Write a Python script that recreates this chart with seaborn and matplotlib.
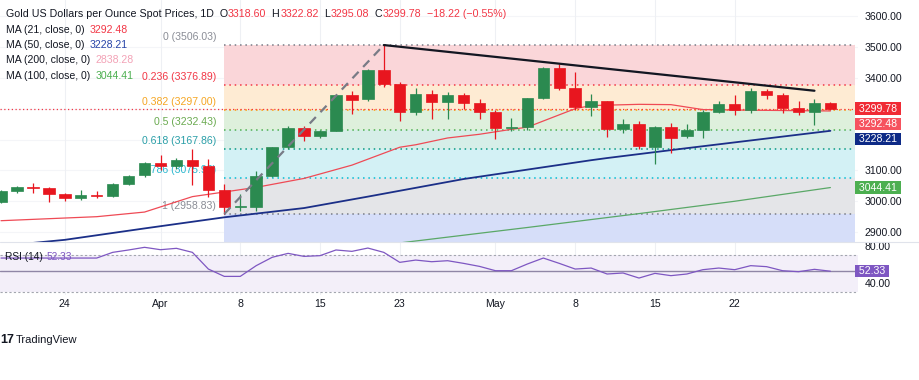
import matplotlib
matplotlib.use("Agg")
import matplotlib.pyplot as plt
from matplotlib.ticker import StrMethodFormatter
import seaborn as sns

# daily candles, 18 Mar .. 30 May (Good Friday skipped)
opens = [2999, 3034, 3047, 3043, 3022, 3011, 3019, 3018, 3056, 3084,
         3123, 3114, 3134, 3114, 3036, 2982, 2982, 3082, 3175, 3237,
         3211, 3229, 3343, 3330, 3425, 3381, 3288, 3349, 3320, 3344,
         3318, 3289, 3238, 3240, 3333, 3432, 3366, 3305, 3325, 3234,
         3249, 3177, 3240, 3211, 3231, 3290, 3314, 3295, 3358, 3344,
         3302, 3288, 3318.60]
highs = [3038, 3050, 3058, 3047, 3026, 3035, 3032, 3059, 3086, 3128,
         3149, 3140, 3168, 3136, 3055, 3022, 3099, 3176, 3245, 3245,
         3232, 3347, 3358, 3430, 3506.03, 3386, 3367, 3362, 3355, 3350,
         3330, 3295, 3269, 3336, 3436, 3445, 3420, 3348, 3325, 3265,
         3260, 3245, 3252, 3250, 3296, 3325, 3345, 3366, 3363, 3350,
         3325, 3330, 3322.82]
lows = [2995, 3028, 3026, 2999, 3002, 3004, 3010, 3015, 3054, 3077,
        3100, 3105, 3054, 3015, 2958.83, 2970, 2970, 3080, 3170, 3194,
        3205, 3228, 3284, 3325, 3370, 3260, 3280, 3267, 3268, 3298,
        3268, 3202, 3229, 3232, 3330, 3362, 3295, 3277, 3208, 3220,
        3168, 3120, 3155, 3204, 3205, 3285, 3278, 3287, 3330, 3285,
        3279, 3246, 3295.08]
closes = [3033, 3045, 3042, 3022, 3011, 3019, 3018, 3056, 3083, 3123,
          3114, 3134, 3114, 3037, 2982, 2984, 3082, 3175, 3237, 3211,
          3229, 3343, 3327, 3425, 3381, 3288, 3349, 3320, 3344, 3318,
          3289, 3237, 3240, 3333, 3432, 3366, 3305, 3325, 3234, 3250,
          3178, 3240, 3204, 3231, 3289, 3314, 3295, 3358, 3344, 3302,
          3288, 3318, 3299.78]

# moving averages, read at a few candles
ma21_idx = [0, 6, 9, 12, 14, 16, 19, 22, 25, 26, 28, 30, 32, 33, 35, 36, 37, 40, 42, 44, 47, 52]
ma21_val = [2937, 2950, 2965, 3015, 3030, 3045, 3074, 3117, 3175, 3183, 3205, 3217,
            3233, 3240, 3280, 3300, 3310, 3314, 3313, 3297, 3295, 3292.48]
ma50_idx = [0, 4, 9, 14, 19, 23, 27, 29, 37, 38, 43, 52]
ma50_val = [2855, 2875, 2912, 2948, 2978, 3015, 3053, 3072, 3133, 3140, 3172, 3228.21]
ma100_idx = [25, 33, 40, 46, 52]
ma100_val = [2865, 2915, 2960, 3000, 3044.41]

rsi = [66.7, 66.7, 66.7, 66.7, 66.7, 66.7, 66.7, 72.9, 75.5, 78.4,
       75.8, 77.3, 72.9, 54.7, 46.7, 46.7, 58.4, 67.5, 71.8, 68.5,
       69.3, 75.5, 74.0, 77.6, 72.9, 62.0, 64.5, 62.7, 63.8, 60.9,
       57.6, 52.9, 52.9, 60.2, 66.7, 60.9, 54.7, 55.8, 49.3, 50.4,
       44.9, 50.0, 47.5, 49.3, 54.0, 55.8, 54.0, 58.4, 57.3, 52.9,
       51.8, 54.4, 52.33]

fib_ratio = [0, 0.236, 0.382, 0.5, 0.618, 0.786, 1]
fib_price = [3506.03, 3376.89, 3297.00, 3232.43, 3167.86, 3075.93, 2958.83]
fib_line = ["#787b86", "#f23645", "#ff9800", "#4caf50", "#089981", "#00bcd4", "#787b86"]
fib_text = ["#8a8d96", "#f23645", "#f5a623", "#6aaa50", "#2a9fa8", "#2bb8cf", "#8a8d96"]
fib_fill = ["#fad6d9", "#feebd3", "#def0dc", "#d6eee8", "#d3f1f5", "#e4e5e8", "#d6def9"]

tick_pos = [4, 10, 15, 20, 25, 31, 36, 41, 46]
tick_lbl = ["24", "Apr", "8", "15", "23", "May", "8", "15", "22"]

sns.set_theme(style="white")
plt.rcParams['font.family'] = ['Liberation Sans', 'DejaVu Sans']

W, H = 920, 380
fig = plt.figure(figsize=(W / 100, H / 100), dpi=100)
ax = fig.add_axes([0, 1 - 242 / H, 858 / W, 242 / H])
ax_r = fig.add_axes([0, 1 - 295 / H, 858 / W, 53 / H], sharex=ax)

n = len(closes)
idx = list(range(n))
ax.set_xlim(-0.063, 53.73)
ax.set_ylim(2868, 3652)

# light grid
for v in range(2900, 3700, 100):
    ax.axhline(v, color="#f4f5f8", lw=0.8, zorder=0)
for t in tick_pos:
    ax.axvline(t, color="#eef0f4", lw=0.8, zorder=0)
    ax_r.axvline(t, color="#eef0f4", lw=0.8, zorder=0)

# fib retracement zones
x0, x1 = 14, 53.55
edges = fib_price + [2700]
for k in range(len(fib_price)):
    ax.fill_between([x0, x1], edges[k + 1], edges[k], color=fib_fill[k], lw=0, zorder=0.5)
for k, (r, p) in enumerate(zip(fib_ratio, fib_price)):
    ax.plot([x0, x1], [p, p], color=fib_line[k], lw=1.1, ls=(0, (1, 2.5)), zorder=1)
    ax.annotate(f"{r:g} ({p:.2f})", xy=(x0, p), xytext=(-8, 3), textcoords="offset pixels",
                ha="right", va="bottom", color=fib_text[k], fontsize=7.6, zorder=1.5)

# last price line
ax.axhline(closes[-1], color="#f23645", lw=0.9, ls=(0, (1, 2)), zorder=1)

# moving averages
sns.lineplot(x=ma100_idx, y=ma100_val, ax=ax, color="#5aa867", lw=0.9, zorder=2)
sns.lineplot(x=ma50_idx, y=ma50_val, ax=ax, color="#1b2f88", lw=1.3, zorder=2)
sns.lineplot(x=ma21_idx, y=ma21_val, ax=ax, color="#ef4a55", lw=0.9, zorder=2)

# candles
up, dn = "#2b8a50", "#e8161f"
cols = [up if c >= o else dn for o, c in zip(opens, closes)]
ax.vlines(idx, lows, highs, colors=cols, lw=0.9, zorder=3)
bodies = [max(abs(c - o), 1.5) for o, c in zip(opens, closes)]
ax.bar(idx, bodies, bottom=[min(o, c) for o, c in zip(opens, closes)], width=0.72,
       color=cols, edgecolor=cols, lw=0.5, zorder=4)

# drawings: fib base and falling trend line
ax.plot([14, 24], [fib_price[-1], fib_price[0]], color="#787b86", lw=1.6,
        ls=(0, (4, 3)), zorder=5)
ax.plot([24, 51], [3506.03, 3358], color="#131722", lw=1.6, zorder=5)

# price scale
ax.yaxis.tick_right()
ax.set_yticks([2900, 3000, 3100, 3400, 3500, 3600])
ax.yaxis.set_major_formatter(StrMethodFormatter("{x:.2f}"))
ax.tick_params(axis="y", length=0, pad=5, labelsize=7.6, colors="#131722")
ax.tick_params(axis="x", length=0, labelbottom=False)
ax.set_xlabel("")
ax.set_ylabel("")
for s in ax.spines.values():
    s.set_visible(False)

badges = [(3299.78, "#f02b35", 0), (3292.48, "#f6525e", -13),
          (3228.21, "#0d2a86", -8), (3044.41, "#4caf50", 0)]
for v, c, dy in badges:
    ax.annotate(f" {v:.2f} ", xy=(1, v), xycoords=("axes fraction", "data"),
                xytext=(-2, dy), textcoords="offset pixels", ha="left", va="center",
                color="white", fontsize=7.6, annotation_clip=False, zorder=10,
                bbox=dict(boxstyle="square,pad=0.12", fc=c, ec="none"))

# RSI panel
ax_r.set_ylim(26.4, 84.2)
ax_r.fill_between([-1, 60], 30, 70, color="#f3eff9", lw=0, zorder=0)
ax_r.axhline(70, color="#a3a6af", lw=0.8, ls=(0, (2, 2)), zorder=1)
ax_r.axhline(30, color="#a3a6af", lw=0.8, ls=(0, (2, 2)), zorder=1)
ax_r.axhline(rsi[-1], color="#8f86a6", lw=1.0, zorder=1)
sns.lineplot(x=idx, y=rsi, ax=ax_r, color="#7e57c2", lw=0.9, zorder=2)
ax_r.yaxis.tick_right()
ax_r.set_yticks([40, 80])
ax_r.yaxis.set_major_formatter(StrMethodFormatter("{x:.2f}"))
ax_r.tick_params(axis="y", length=0, pad=5, labelsize=7.6, colors="#131722")
ax_r.set_xticks(tick_pos)
ax_r.set_xticklabels(tick_lbl)
ax_r.tick_params(axis="x", length=0, pad=3, labelsize=7.6, colors="#131722")
ax_r.set_xlabel("")
ax_r.set_ylabel("")
for s in ax_r.spines.values():
    s.set_visible(False)
ax_r.annotate(f" {rsi[-1]:.2f} ", xy=(1, rsi[-1]), xycoords=("axes fraction", "data"),
              xytext=(-2, 0), textcoords="offset pixels", ha="left", va="center",
              color="white", fontsize=7.6, annotation_clip=False, zorder=10,
              bbox=dict(boxstyle="square,pad=0.12", fc="#7e57c2", ec="none"))
t = ax_r.text(0.006, 0.72, "RSI (14)", transform=ax_r.transAxes, fontsize=7.3,
              color="#131722", va="center", zorder=6)
ax_r.annotate(f"{rsi[-1]:.2f}", xy=(1, 0), xycoords=t, xytext=(4, 0),
              textcoords="offset pixels", va="bottom", fontsize=7.3, color="#7e57c2", zorder=6)

fig.add_artist(plt.Line2D([0, 1], [1 - 242 / H, 1 - 242 / H], color="#e0e3eb", lw=0.8))


# header / legend text
def px(x, y):
    return x / W, 1 - y / H


parts = [("Gold US Dollars per Ounce Spot Prices, 1D  O", "#131722"), ("3318.60", "#f23645"),
         ("  H", "#131722"), ("3322.82", "#f23645"), ("  L", "#131722"), ("3295.08", "#f23645"),
         ("  C", "#131722"), ("3299.78", "#f23645"), ("  \u221218.22 (\u22120.55%)", "#f23645")]
prev = fig.text(*px(6, 14), parts[0][0], color=parts[0][1], fontsize=7.7, va="center")
for txt, c in parts[1:]:
    prev = ax.annotate(txt, xy=(1, 0), xycoords=prev, va="bottom", ha="left",
                       fontsize=7.7, color=c, annotation_clip=False)

legend = [("MA (21, close, 0)", "3292.48", "#f23645"),
          ("MA (50, close, 0)", "3228.21", "#2744a8"),
          ("MA (200, close, 0)", "2838.28", "#f3a2b6"),
          ("MA (100, close, 0)", "3044.41", "#4caf50")]
for k, (name, val, c) in enumerate(legend):
    tt = fig.text(*px(6, 30 + 15.2 * k), name, color="#131722", fontsize=7.6, va="center")
    ax.annotate(val, xy=(1, 0), xycoords=tt, xytext=(5, 0), textcoords="offset pixels",
                va="bottom", ha="left", fontsize=7.6, color=c, annotation_clip=False)

fig.text(*px(0, 340), "17", fontsize=9, weight="heavy", color="#131722", va="center")
fig.text(*px(16, 340), "TradingView", fontsize=8, color="#131722", va="center")

fig.savefig("out.png", dpi=100, facecolor="white")
